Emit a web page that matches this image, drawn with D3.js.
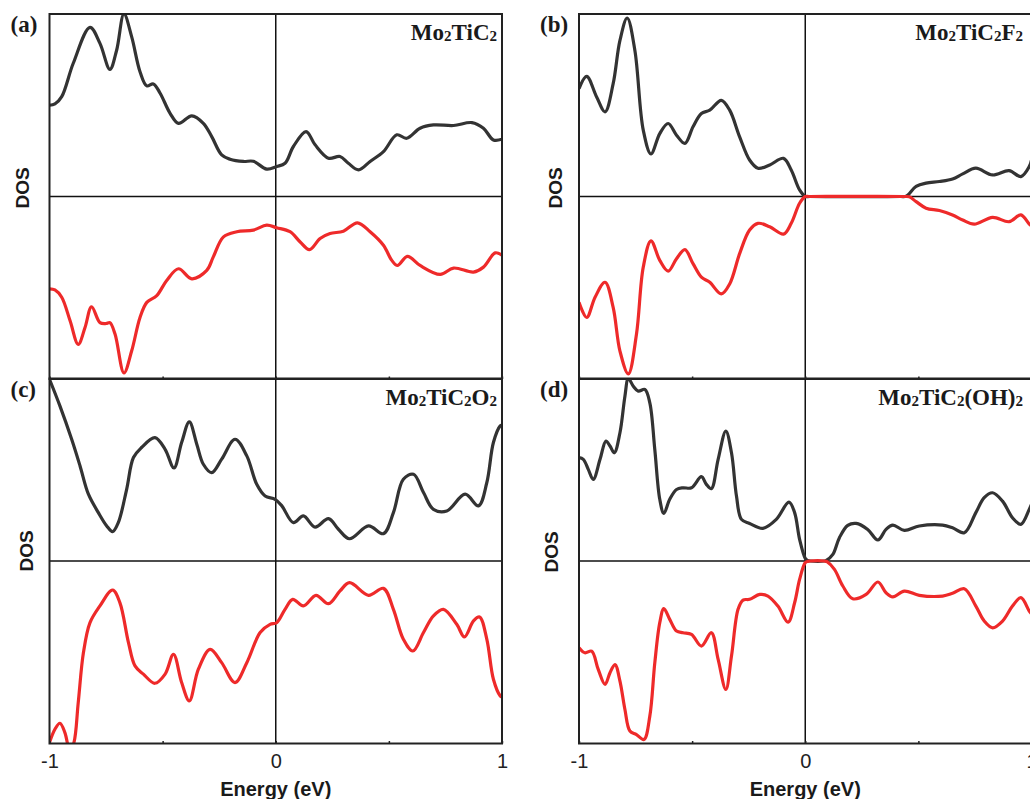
<!DOCTYPE html>
<html>
<head>
<meta charset="utf-8">
<script src="https://cdn.jsdelivr.net/npm/d3@7"></script>
<style>
  body { margin: 0; background: #fff; }
</style>
</head>
<body>
<div id="chart"></div>
<script>
// energy ticks and labels
const tickVals = [-1, -0.5, 0, 0.5, 1];
const tickText = ["-1", "", "0", "", "1"];
const panelLabels = ["(a)", "(b)", "(c)", "(d)"];
// formula pieces: [text, isSubscript]
const formulas = [
  [["Mo", 0], ["2", 1], ["TiC", 0], ["2", 1]],
  [["Mo", 0], ["2", 1], ["TiC", 0], ["2", 1], ["F", 0], ["2", 1]],
  [["Mo", 0], ["2", 1], ["TiC", 0], ["2", 1], ["O", 0], ["2", 1]],
  [["Mo", 0], ["2", 1], ["TiC", 0], ["2", 1], ["(OH)", 0], ["2", 1]]
];

// DOS, [energy eV, dos] (arbitrary units, spin up > 0, spin down < 0)
const aUp = [[-1.0,0.50],[-0.976,0.507],[-0.946,0.547],[-0.895,0.73],[-0.821,0.927],[-0.777,0.839],[-0.733,0.697],[-0.703,0.803],[-0.671,1.0],[-0.637,0.876],[-0.60,0.684],[-0.57,0.606],[-0.541,0.617],[-0.511,0.566],[-0.467,0.456],[-0.43,0.401],[-0.371,0.442],[-0.32,0.401],[-0.283,0.328],[-0.239,0.228],[-0.202,0.204],[-0.143,0.192],[-0.099,0.193],[-0.04,0.15],[0.004,0.164],[0.041,0.182],[0.078,0.274],[0.134,0.356],[0.174,0.283],[0.233,0.21],[0.284,0.219],[0.321,0.182],[0.366,0.146],[0.417,0.192],[0.476,0.246],[0.535,0.338],[0.579,0.319],[0.638,0.374],[0.697,0.392],[0.786,0.389],[0.867,0.405],[0.918,0.374],[0.962,0.31],[1.0,0.314]];
const aDown = [[-1.0,-0.506],[-0.976,-0.512],[-0.946,-0.552],[-0.909,-0.681],[-0.873,-0.81],[-0.843,-0.718],[-0.814,-0.604],[-0.777,-0.691],[-0.75,-0.696],[-0.733,-0.691],[-0.71,-0.755],[-0.671,-0.967],[-0.637,-0.847],[-0.6,-0.663],[-0.57,-0.58],[-0.526,-0.543],[-0.482,-0.46],[-0.43,-0.396],[-0.371,-0.451],[-0.305,-0.405],[-0.276,-0.331],[-0.231,-0.221],[-0.172,-0.193],[-0.099,-0.184],[-0.04,-0.157],[0.004,-0.171],[0.063,-0.193],[0.108,-0.249],[0.149,-0.291],[0.196,-0.23],[0.24,-0.203],[0.299,-0.19],[0.361,-0.144],[0.417,-0.193],[0.476,-0.267],[0.513,-0.35],[0.538,-0.378],[0.582,-0.328],[0.638,-0.378],[0.727,-0.427],[0.786,-0.392],[0.874,-0.414],[0.918,-0.387],[0.97,-0.309],[1.0,-0.322]];

const bUp = [[-1.0,0.591],[-0.966,0.658],[-0.922,0.545],[-0.885,0.464],[-0.849,0.618],[-0.819,0.855],[-0.787,0.978],[-0.753,0.8],[-0.716,0.364],[-0.682,0.233],[-0.643,0.345],[-0.606,0.4],[-0.569,0.336],[-0.532,0.291],[-0.496,0.382],[-0.459,0.455],[-0.422,0.473],[-0.371,0.527],[-0.334,0.473],[-0.29,0.327],[-0.246,0.2],[-0.209,0.155],[-0.157,0.173],[-0.096,0.209],[-0.062,0.145],[-0.025,0.036],[0,0],[0.02,0],[0.42,0],[0.446,0.002],[0.49,0.055],[0.534,0.073],[0.593,0.082],[0.651,0.096],[0.696,0.124],[0.754,0.155],[0.828,0.118],[0.901,0.142],[0.953,0.109],[0.99,0.164],[1.0,0.2]];
const bDown = [[-1.0,-0.58],[-0.966,-0.663],[-0.929,-0.552],[-0.885,-0.47],[-0.849,-0.608],[-0.819,-0.847],[-0.782,-0.972],[-0.746,-0.755],[-0.716,-0.387],[-0.682,-0.243],[-0.643,-0.35],[-0.606,-0.409],[-0.569,-0.341],[-0.532,-0.291],[-0.496,-0.368],[-0.459,-0.442],[-0.422,-0.47],[-0.371,-0.534],[-0.334,-0.479],[-0.29,-0.313],[-0.246,-0.184],[-0.209,-0.147],[-0.157,-0.166],[-0.096,-0.206],[-0.062,-0.147],[-0.025,-0.037],[0,0],[0.02,0],[0.44,0],[0.46,-0.002],[0.49,-0.028],[0.534,-0.064],[0.593,-0.077],[0.651,-0.101],[0.696,-0.129],[0.747,-0.151],[0.828,-0.114],[0.901,-0.138],[0.953,-0.101],[0.99,-0.151],[1.0,-0.16]];

const cUp = [[-1.0,0.996],[-0.954,0.85],[-0.902,0.667],[-0.865,0.521],[-0.828,0.366],[-0.784,0.265],[-0.747,0.192],[-0.721,0.161],[-0.696,0.21],[-0.659,0.393],[-0.629,0.567],[-0.593,0.622],[-0.534,0.676],[-0.489,0.612],[-0.45,0.51],[-0.416,0.649],[-0.382,0.762],[-0.349,0.64],[-0.32,0.53],[-0.283,0.484],[-0.239,0.558],[-0.18,0.667],[-0.128,0.576],[-0.084,0.42],[-0.047,0.356],[-0.003,0.338],[0.027,0.302],[0.078,0.21],[0.122,0.247],[0.174,0.186],[0.233,0.232],[0.277,0.174],[0.326,0.122],[0.41,0.192],[0.476,0.15],[0.52,0.265],[0.564,0.448],[0.609,0.475],[0.653,0.375],[0.697,0.283],[0.756,0.274],[0.837,0.366],[0.896,0.302],[0.933,0.43],[0.962,0.649],[0.992,0.74],[1.0,0.745]];
const cDown = [[-1.0,-0.995],[-0.976,-0.922],[-0.954,-0.889],[-0.932,-0.94],[-0.91,-1.04],[-0.892,-0.995],[-0.873,-0.776],[-0.85,-0.502],[-0.821,-0.338],[-0.777,-0.246],[-0.721,-0.159],[-0.689,-0.228],[-0.651,-0.447],[-0.622,-0.575],[-0.585,-0.62],[-0.534,-0.67],[-0.489,-0.62],[-0.452,-0.511],[-0.416,-0.666],[-0.382,-0.766],[-0.342,-0.593],[-0.29,-0.484],[-0.239,-0.557],[-0.18,-0.666],[-0.128,-0.557],[-0.069,-0.392],[-0.025,-0.347],[0.004,-0.338],[0.041,-0.265],[0.075,-0.21],[0.122,-0.246],[0.178,-0.188],[0.233,-0.234],[0.284,-0.164],[0.326,-0.119],[0.41,-0.188],[0.476,-0.15],[0.52,-0.265],[0.564,-0.429],[0.606,-0.493],[0.653,-0.392],[0.697,-0.301],[0.741,-0.265],[0.8,-0.347],[0.834,-0.416],[0.874,-0.328],[0.901,-0.307],[0.933,-0.429],[0.962,-0.648],[0.992,-0.739],[1.0,-0.745]];

const dUp = [[-1.0,0.566],[-0.981,0.557],[-0.959,0.502],[-0.937,0.447],[-0.907,0.557],[-0.881,0.657],[-0.863,0.63],[-0.844,0.593],[-0.819,0.703],[-0.797,0.903],[-0.782,1.0],[-0.76,0.958],[-0.738,0.931],[-0.709,0.94],[-0.687,0.867],[-0.665,0.611],[-0.643,0.338],[-0.625,0.261],[-0.599,0.338],[-0.569,0.392],[-0.54,0.401],[-0.503,0.401],[-0.459,0.462],[-0.437,0.42],[-0.415,0.396],[-0.385,0.557],[-0.351,0.712],[-0.326,0.593],[-0.304,0.356],[-0.282,0.228],[-0.246,0.206],[-0.187,0.179],[-0.128,0.228],[-0.072,0.323],[-0.047,0.265],[-0.025,0.119],[0,0.015],[0.012,0.002],[0.02,0],[0.085,0],[0.093,0.003],[0.122,0.036],[0.151,0.128],[0.188,0.195],[0.225,0.206],[0.276,0.173],[0.321,0.115],[0.357,0.173],[0.387,0.197],[0.438,0.168],[0.504,0.192],[0.607,0.197],[0.651,0.182],[0.703,0.155],[0.754,0.265],[0.791,0.347],[0.828,0.374],[0.872,0.328],[0.916,0.237],[0.953,0.201],[0.99,0.283],[1.0,0.31]];
const dDown = [[-1.0,-0.475],[-0.974,-0.503],[-0.944,-0.494],[-0.915,-0.594],[-0.885,-0.676],[-0.863,-0.612],[-0.841,-0.567],[-0.819,-0.658],[-0.797,-0.814],[-0.775,-0.932],[-0.746,-0.951],[-0.713,-0.978],[-0.687,-0.85],[-0.665,-0.558],[-0.643,-0.338],[-0.625,-0.261],[-0.599,-0.32],[-0.569,-0.384],[-0.54,-0.393],[-0.503,-0.402],[-0.459,-0.466],[-0.415,-0.393],[-0.385,-0.539],[-0.351,-0.704],[-0.326,-0.521],[-0.297,-0.265],[-0.275,-0.214],[-0.246,-0.21],[-0.201,-0.183],[-0.165,-0.192],[-0.121,-0.247],[-0.076,-0.335],[-0.047,-0.229],[-0.025,-0.101],[0,-0.009],[0.012,-0.002],[0.02,0],[0.085,0],[0.096,-0.004],[0.129,-0.046],[0.166,-0.137],[0.21,-0.207],[0.269,-0.183],[0.321,-0.115],[0.357,-0.174],[0.387,-0.197],[0.438,-0.165],[0.504,-0.188],[0.607,-0.192],[0.651,-0.177],[0.703,-0.152],[0.754,-0.247],[0.791,-0.329],[0.828,-0.366],[0.872,-0.329],[0.916,-0.247],[0.953,-0.201],[0.99,-0.274],[1.0,-0.29]];

const upSeries = [aUp, bUp, cUp, dUp];
const downSeries = [aDown, bDown, cDown, dDown];

// layout
const W = 1030, H = 799;
const colX = [49.5, 579], rowY = [14, 378.5];
const pw = 452.5, ph = 365;
const serif = "'Liberation Serif', 'Times New Roman', serif";
const sans = "'Liberation Sans', Arial, sans-serif";
const dosPos = [[29, 188], [562, 188], [33, 551], [558, 552]];

const svg = d3.select("#chart").append("svg")
  .attr("width", W).attr("height", H);

for (let i = 0; i < 4; i++) {
  const col = i % 2, row = Math.floor(i / 2);
  const x0 = colX[col], y0 = rowY[row];

  const x = d3.scaleLinear().domain([-1, 1]).range([x0, x0 + pw]);
  const y = d3.scaleLinear().domain([-1, 1]).range([y0 + ph, y0]);

  svg.append("clipPath").attr("id", "clip" + i)
    .append("rect").attr("x", x0).attr("y", y0).attr("width", pw).attr("height", ph);

  const g = svg.append("g");

  // zero lines
  g.append("line")
    .attr("x1", x0).attr("x2", x0 + pw).attr("y1", y(0)).attr("y2", y(0))
    .attr("stroke", "#111").attr("stroke-width", 1.5);
  g.append("line")
    .attr("x1", x(0)).attr("x2", x(0)).attr("y1", y0).attr("y2", y0 + ph)
    .attr("stroke", "#111").attr("stroke-width", 1.5);

  const line = d3.line()
    .x(d => x(d[0]))
    .y(d => y(d[1]))
    .curve(d3.curveCatmullRom.alpha(0.5));

  const curves = g.append("g").attr("clip-path", `url(#clip${i})`);
  curves.append("path").datum(upSeries[i])
    .attr("fill", "none").attr("stroke", "#333333").attr("stroke-width", 3.2)
    .attr("stroke-linejoin", "round").attr("d", line);
  curves.append("path").datum(downSeries[i])
    .attr("fill", "none").attr("stroke", "#ee2a2a").attr("stroke-width", 3.2)
    .attr("stroke-linejoin", "round").attr("d", line);

  // bottom axis with small inward ticks
  const ax = g.append("g")
    .attr("transform", `translate(0,${y0 + ph})`)
    .call(d3.axisBottom(x).tickValues(tickVals).tickSize(-2.5).tickPadding(10)
      .tickFormat((d, k) => row === 1 ? tickText[k] : ""));
  ax.select(".domain").remove();
  ax.selectAll(".tick line").attr("stroke", "#222").attr("stroke-width", 1.5);
  ax.selectAll(".tick text")
    .style("font-family", sans).style("font-size", "20px").attr("fill", "#222");

  // frame
  g.append("rect")
    .attr("x", x0).attr("y", y0).attr("width", pw).attr("height", ph)
    .attr("fill", "none").attr("stroke", "#222").attr("stroke-width", 2);

  // DOS label
  g.append("text")
    .attr("transform", `translate(${dosPos[i][0]},${dosPos[i][1]}) rotate(-90)`)
    .attr("text-anchor", "middle")
    .style("font-family", sans).style("font-weight", "bold").style("font-size", "19px")
    .attr("fill", "#1a1a1a")
    .text("DOS");

  // panel letter
  g.append("text")
    .attr("x", x0 - 39).attr("y", y0 + 18)
    .style("font-family", serif).style("font-weight", "bold").style("font-size", "23px")
    .attr("fill", "#1a1a1a")
    .text(panelLabels[i]);

  // compound name
  const ft = g.append("text")
    .attr("x", col === 0 ? x0 + pw - 5 : 1023)
    .attr("y", y0 + 26)
    .attr("text-anchor", "end")
    .style("font-family", serif).style("font-weight", "bold").style("font-size", "23px")
    .attr("fill", "#1a1a1a");
  formulas[i].forEach(p => {
    const t = ft.append("tspan").text(p[0]);
    if (p[1]) t.style("font-size", "15px").attr("dy", 1);
    else t.attr("dy", ft.selectAll("tspan").size() > 1 ? -1 : 0);
  });

  // energy label under bottom panels
  if (row === 1) {
    g.append("text")
      .attr("x", x(0)).attr("y", 796)
      .attr("text-anchor", "middle")
      .style("font-family", sans).style("font-weight", "bold").style("font-size", "20px")
      .attr("fill", "#1a1a1a")
      .text("Energy (eV)");
  }
}
</script>
</body>
</html>
